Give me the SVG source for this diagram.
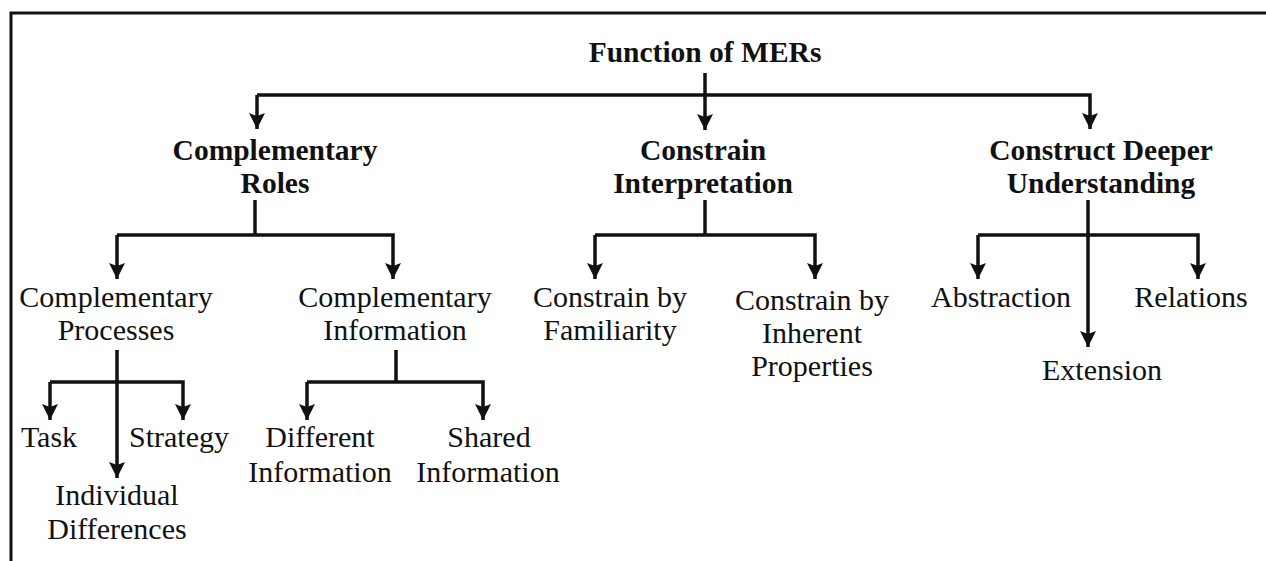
<svg xmlns="http://www.w3.org/2000/svg" width="1266" height="561" viewBox="0 0 1266 561">
  <style>
    text { font-family: "Liberation Serif", "Times New Roman", serif; fill: #111; text-anchor: middle; }
    .b { font-weight: bold; font-size: 29.5px; }
    .r { font-size: 30px; }
    .c { fill: none; stroke: #111; stroke-width: 3.5; stroke-linejoin: miter; }
    .frame { fill: none; stroke: #111; stroke-width: 3; }
  </style>
  <defs>
    <marker id="arr" viewBox="0 0 16 16" refX="16" refY="8" markerWidth="16" markerHeight="16" markerUnits="userSpaceOnUse" orient="auto">
      <path d="M0,0 L16,8 L0,16 L3,8 z" fill="#111"/>
    </marker>
  </defs>
  <rect width="1266" height="561" fill="#fff"/>
  <path class="frame" d="M11,561 L11,13 L1266,13"/>

  <g id="connectors">
    <!-- root -->
    <path class="c" d="M705,73 L705,130" marker-end="url(#arr)"/>
    <path class="c" d="M257,95 L1090,95 L1090,129" marker-end="url(#arr)"/>
    <path class="c" d="M257,95 L257,129" marker-end="url(#arr)"/>
    <!-- Complementary Roles -->
    <path class="c" d="M255,200 L255,235"/>
    <path class="c" d="M117,235 L393,235 L393,279" marker-end="url(#arr)"/>
    <path class="c" d="M117,235 L117,279" marker-end="url(#arr)"/>
    <!-- Constrain Interpretation -->
    <path class="c" d="M705,200 L705,235"/>
    <path class="c" d="M595,235 L815,235 L815,279" marker-end="url(#arr)"/>
    <path class="c" d="M595,235 L595,279" marker-end="url(#arr)"/>
    <!-- Construct Deeper Understanding -->
    <path class="c" d="M1088,200 L1088,347" marker-end="url(#arr)"/>
    <path class="c" d="M978,235 L1198,235 L1198,279" marker-end="url(#arr)"/>
    <path class="c" d="M978,235 L978,279" marker-end="url(#arr)"/>
    <!-- Complementary Processes -->
    <path class="c" d="M117,350 L117,478" marker-end="url(#arr)"/>
    <path class="c" d="M50,382 L183,382 L183,420" marker-end="url(#arr)"/>
    <path class="c" d="M50,382 L50,420" marker-end="url(#arr)"/>
    <!-- Complementary Information -->
    <path class="c" d="M396,350 L396,382"/>
    <path class="c" d="M307,382 L483,382 L483,420" marker-end="url(#arr)"/>
    <path class="c" d="M307,382 L307,420" marker-end="url(#arr)"/>
  </g>

  <g id="n-root"><text class="b" x="705" y="62">Function of MERs</text></g>

  <g id="n-roles">
    <text class="b" x="275" y="160">Complementary</text>
    <text class="b" x="275" y="193">Roles</text>
  </g>
  <g id="n-constrain">
    <text class="b" x="703" y="160">Constrain</text>
    <text class="b" x="703" y="193">Interpretation</text>
  </g>
  <g id="n-construct">
    <text class="b" x="1101" y="160">Construct Deeper</text>
    <text class="b" x="1101" y="193">Understanding</text>
  </g>

  <g id="n-processes">
    <text class="r" x="116" y="307">Complementary</text>
    <text class="r" x="116" y="340">Processes</text>
  </g>
  <g id="n-information">
    <text class="r" x="395" y="307">Complementary</text>
    <text class="r" x="395" y="340">Information</text>
  </g>
  <g id="n-familiarity">
    <text class="r" x="610" y="307">Constrain by</text>
    <text class="r" x="610" y="340">Familiarity</text>
  </g>
  <g id="n-inherent">
    <text class="r" x="812" y="310">Constrain by</text>
    <text class="r" x="812" y="343">Inherent</text>
    <text class="r" x="812" y="376">Properties</text>
  </g>
  <g id="n-abstraction"><text class="r" x="1001" y="307">Abstraction</text></g>
  <g id="n-relations"><text class="r" x="1191" y="307">Relations</text></g>
  <g id="n-extension"><text class="r" x="1102" y="380">Extension</text></g>

  <g id="n-task"><text class="r" x="49" y="447">Task</text></g>
  <g id="n-strategy"><text class="r" x="179" y="447">Strategy</text></g>
  <g id="n-individual">
    <text class="r" x="117" y="505">Individual</text>
    <text class="r" x="117" y="539">Differences</text>
  </g>
  <g id="n-different">
    <text class="r" x="320" y="447">Different</text>
    <text class="r" x="320" y="482">Information</text>
  </g>
  <g id="n-shared">
    <text class="r" x="489" y="447">Shared</text>
    <text class="r" x="488" y="482">Information</text>
  </g>
</svg>
